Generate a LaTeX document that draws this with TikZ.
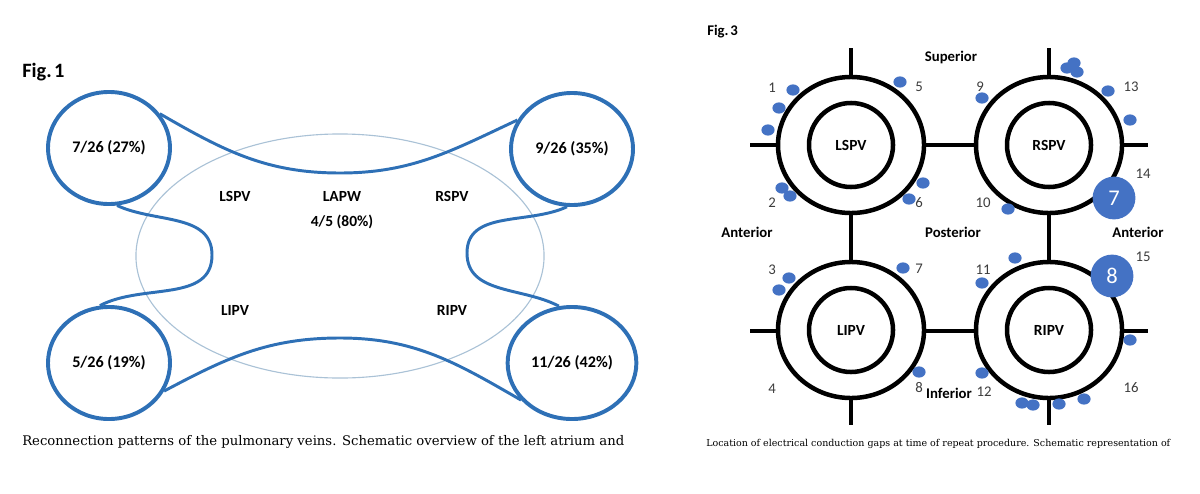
\documentclass[tikz,border=0pt]{standalone}
\usepackage{fontspec}
\setmainfont{Carlito}
\newfontfamily\capfont{DejaVu Serif}
\usetikzlibrary{shapes.geometric,positioning}

\definecolor{veinblue}{RGB}{46,112,182}
\definecolor{atriumline}{RGB}{170,194,214}
\definecolor{gapblue}{RGB}{68,114,196}
\definecolor{numgray}{RGB}{60,60,60}

\tikzset{
  vein/.style={ellipse, draw=veinblue, line width=2.8pt, minimum width=3.05cm,
    minimum height=2.8cm, font=\bfseries\fontsize{11.5}{13}\selectfont},
  link/.style={draw=veinblue, line width=2.1pt},
  pvlabel/.style={font=\bfseries\fontsize{11}{13}\selectfont},
  outerring/.style={ellipse, draw, fill=white, line width=3.2pt,
    minimum width=3.65cm, minimum height=3.4cm},
  innerring/.style={circle, draw, fill=white, line width=3.2pt,
    minimum size=2.1cm, font=\bfseries\fontsize{11}{13}\selectfont},
  axis/.style={line width=3pt},
  side/.style={font=\bfseries\fontsize{10.5}{12}\selectfont},
  gapnum/.style={text=numgray, font=\fontsize{10.5}{12}\selectfont, inner sep=0pt},
  gap/.style={ellipse, fill=gapblue, inner sep=0pt, minimum width=0.33cm, minimum height=0.28cm},
  biggap/.style={circle, fill=gapblue, inner sep=0pt, minimum size=1.07cm,
    text=white, font=\fontsize{16}{17}\selectfont},
  figlabel/.style={anchor=west, inner sep=0pt},
  caption/.style={anchor=west, inner sep=0pt}
}

\begin{document}
\begin{tikzpicture}[x=0.025cm, y=0.025cm]
\useasboundingbox (0,0) rectangle (1200,-493);

\node[figlabel, font=\bfseries\fontsize{14.5}{16}\selectfont] (fig1) at (22,-72) {Fig.\hspace{0.12em}1};

\node[ellipse, draw=atriumline, line width=0.8pt, minimum width=10.2cm, minimum height=6.1cm] (atrium) at (340,-256) {};

\node[vein] (ls) at (109,-148) {7/26 (27\%)};
\node[vein] (rs) at (572,-149) {9/26 (35\%)};
\node[vein] (li) at (109,-363) {5/26 (19\%)};
\node[vein] (ri) at (572,-363) {11/26 (42\%)};

\coordinate (topdip) at (340,-173);
\coordinate (leftbulge) at (212,-255);
\coordinate (rightbulge) at (467,-253);
\coordinate (bottomhump) at (340,-338);

\draw[link] (ls.34) to[out=-30, in=180] (topdip) to[out=0, in=-155] (rs.152);
\draw[link] (ls.-82) to[out=-25, in=90] (leftbulge) to[out=-90, in=28] (li.99);
\draw[link] (rs.-95) to[out=205, in=90] (rightbulge) to[out=-90, in=152] (ri.103);
\draw[link] (li.-27) to[out=28, in=180] (bottomhump) to[out=0, in=150] (ri.216);

\node[pvlabel] (lspvtag) at (235,-196) {LSPV};
\node[pvlabel] (lapw) at (342,-196) {LAPW};
\node[pvlabel, below=0.1cm of lapw] (lapwratio) {4/5 (80\%)};
\node[pvlabel] (rspvtag) at (452,-196) {RSPV};
\node[pvlabel] (lipvtag) at (235,-310) {LIPV};
\node[pvlabel] (ripvtag) at (452,-310) {RIPV};

\node[caption, font=\capfont\fontsize{9.4}{11}\selectfont] (cap1) at (22,-442)
  {Reconnection patterns of the pulmonary veins. Schematic overview of the left atrium and};

\node[figlabel, font=\bfseries\fontsize{10.5}{12}\selectfont] (fig3) at (707,-32) {Fig.\hspace{0.12em}3};

\coordinate (vtopl) at (851,-48);
\coordinate (vbotl) at (851,-425);
\coordinate (vtopr) at (1049,-48);
\coordinate (vbotr) at (1049,-425);
\coordinate (hlefts) at (750,-145);
\coordinate (hrights) at (1148,-145);
\coordinate (hlefti) at (750,-331);
\coordinate (hrighti) at (1148,-331);
\draw[axis] (vtopl) -- (vbotl);
\draw[axis] (vtopr) -- (vbotr);
\draw[axis] (hlefts) -- (hrights);
\draw[axis] (hlefti) -- (hrighti);

\node[outerring] (lsring) at (851,-145) {};
\node[outerring] (rsring) at (1049,-145) {};
\node[outerring] (liring) at (851,-330) {};
\node[outerring] (riring) at (1049,-330) {};
\node[innerring] (lspv) at (lsring) {LSPV};
\node[innerring] (rspv) at (rsring) {RSPV};
\node[innerring] (lipv) at (liring) {LIPV};
\node[innerring] (ripv) at (riring) {RIPV};

\node[side] (superior) at (951,-57) {Superior};
\node[side] (anteriorl) at (747,-232) {Anterior};
\node[side] (posterior) at (953,-232) {Posterior};
\node[side] (anteriorr) at (1138,-232) {Anterior};
\node[side] (inferior) at (949,-393) {Inferior};

\foreach \t/\x/\y in {1/772/88, 5/919/87, 9/980/87, 13/1131/87,
  2/772/203, 6/919/203, 10/983/203, 14/1143/174,
  3/772/270, 7/919/269, 11/983/270, 15/1143/257,
  4/772/389, 8/919/388, 12/984/392, 16/1131/388}
  \node[gapnum] (num\t) at (\x,-\y) {\t};

\foreach \x/\y [count=\k] in {793/90, 779/108, 768/130, 782/188, 790/196, 900/82, 923/183, 909/199,
  982/98, 1067/68, 1074/63, 1077/72, 1108/91, 1130/120, 1008/209,
  789/278, 779/290, 903/268, 919/372,
  1015/258, 982/283, 1130/340, 982/373, 1022/403, 1033/405, 1059/404, 1084/399}
  \node[gap] (gap\k) at (\x,-\y) {};

\node[biggap] (gapseven) at (1114,-198) {7};
\node[biggap] (gapeight) at (1112,-276) {8};

\node[caption, font=\capfont\fontsize{6.75}{8}\selectfont] (cap3) at (706,-444)
  {Location of electrical conduction gaps at time of repeat procedure. Schematic representation of};
\end{tikzpicture}
\end{document}
